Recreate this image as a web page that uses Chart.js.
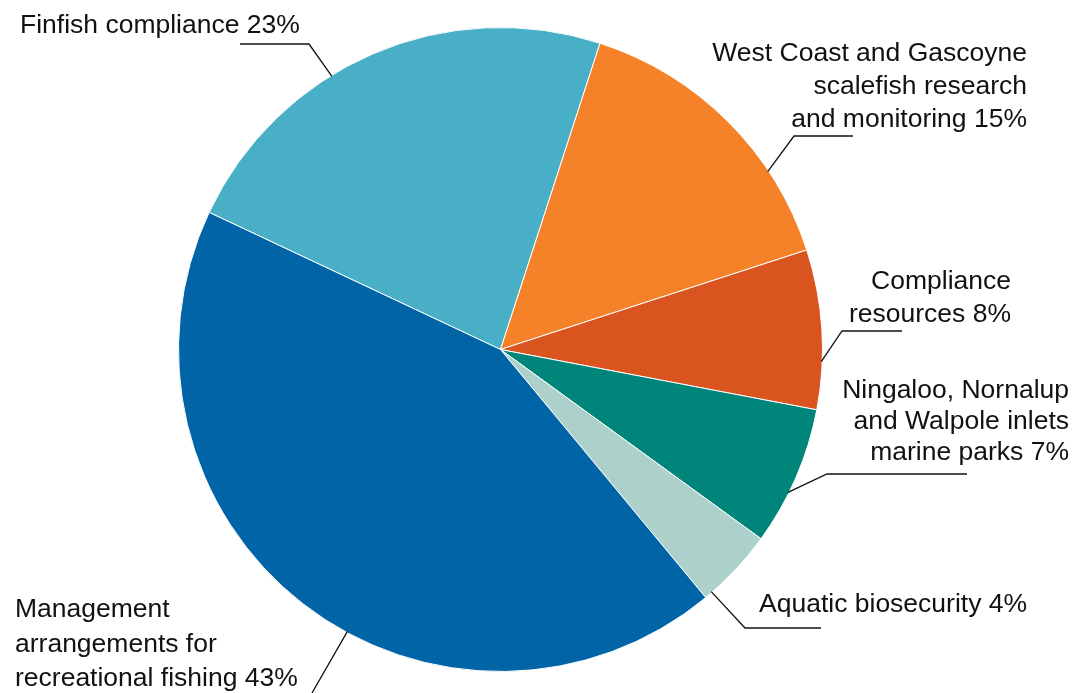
<!DOCTYPE html>
<html>
<head>
<meta charset="utf-8">
<script src="https://cdn.jsdelivr.net/npm/chart.js@4/dist/chart.umd.min.js"></script>
<style>
  html, body { margin: 0; padding: 0; background: #ffffff; }
  #wrap { width: 1077px; height: 693px; position: relative; }
</style>
</head>
<body>
<div id="wrap"><canvas id="pie" width="1077" height="693"></canvas></div>
<script>
// Spending shares by program (per cent)
const categories = [
  'Finfish compliance',
  'West Coast and Gascoyne scalefish research and monitoring',
  'Compliance resources',
  'Ningaloo, Nornalup and Walpole inlets marine parks',
  'Aquatic biosecurity',
  'Management arrangements for recreational fishing'
];
const shares = [23, 15, 8, 7, 4, 43];
const sliceColours = ['#48AFC6', '#F58228', '#D9541F', '#00857A', '#ABD1CA', '#0064A6'];

// Label text, one entry per line
const labelLines = [
  ['Finfish compliance 23%'],
  ['West Coast and Gascoyne', 'scalefish research', 'and monitoring 15%'],
  ['Compliance', 'resources 8%'],
  ['Ningaloo, Nornalup', 'and Walpole inlets', 'marine parks 7%'],
  ['Aquatic biosecurity 4%'],
  ['Management', 'arrangements for', 'recreational fishing 43%']
];

// Callout layout: where along each slice the leader starts (0..1 of its arc),
// the elbow / end of the leader and where the text block sits.
const callouts = [
  { along: 0.40, elbow: [309, 44],  end: [240, 44],  align: 'left',  x: 20,   y: 33,  gap: 33 },
  { along: 0.71, elbow: [794, 136], end: [853, 136], align: 'right', x: 1027, y: 61,  gap: 33 },
  { along: 0.70, elbow: [842, 331], end: [902, 331], align: 'right', x: 1011, y: 289, gap: 33 },
  { along: 0.62, elbow: [827, 474], end: [967, 474], align: 'right', x: 1069, y: 398, gap: 31 },
  { along: 0.90, elbow: [745, 628], end: [821, 628], align: 'left',  x: 759,  y: 612, gap: 33 },
  { along: 0.44, elbow: [312, 693], end: null,       align: 'left',  x: 15,   y: 617, gap: 34.5 }
];

const calloutPlugin = {
  id: 'callouts',
  afterDatasetsDraw(chart) {
    const ctx = chart.ctx;
    const arcs = chart.getDatasetMeta(0).data;
    ctx.save();
    arcs.forEach((arc, i) => {
      const c = callouts[i];
      const p = arc.getProps(['x', 'y', 'startAngle', 'endAngle', 'outerRadius'], true);
      const a = p.startAngle + (p.endAngle - p.startAngle) * c.along;
      const r = p.outerRadius - 1;
      const ax = p.x + Math.cos(a) * r;
      const ay = p.y + Math.sin(a) * r;
      ctx.strokeStyle = '#111111';
      ctx.lineWidth = 1.3;
      ctx.beginPath();
      ctx.moveTo(ax, ay);
      ctx.lineTo(c.elbow[0], c.elbow[1]);
      if (c.end) ctx.lineTo(c.end[0], c.end[1]);
      ctx.stroke();

      ctx.fillStyle = '#111111';
      ctx.font = '26.5px "Liberation Sans", Arial, sans-serif';
      ctx.textAlign = c.align;
      ctx.textBaseline = 'alphabetic';
      labelLines[i].forEach((line, k) => {
        ctx.fillText(line, c.x, c.y + k * c.gap);
      });
    });
    ctx.restore();
  }
};

new Chart(document.getElementById('pie'), {
  type: 'pie',
  data: {
    labels: categories,
    datasets: [{
      data: shares,
      backgroundColor: sliceColours,
      borderColor: '#ffffff',
      borderWidth: 1
    }]
  },
  options: {
    responsive: false,
    animation: false,
    rotation: -64.8,
    layout: { padding: { top: 27, bottom: 21, left: 178, right: 254 } },
    plugins: {
      legend: { display: false },
      tooltip: { enabled: false }
    }
  },
  plugins: [calloutPlugin]
});
</script>
</body>
</html>
